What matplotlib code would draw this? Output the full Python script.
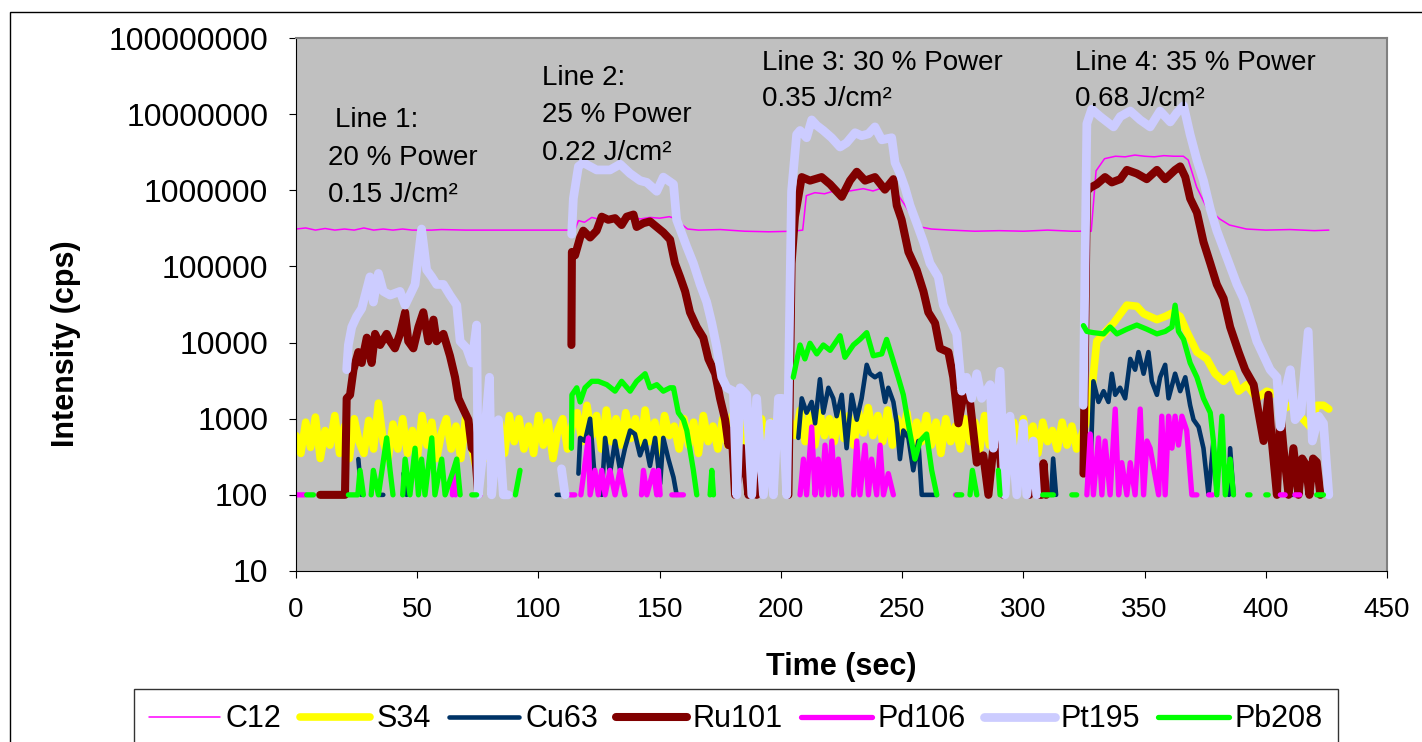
import matplotlib
matplotlib.use('Agg')
import matplotlib.pyplot as plt
import numpy as np
from matplotlib.patches import Rectangle
from matplotlib.ticker import FixedLocator, FuncFormatter, NullLocator

plt.rcParams['font.family'] = ['Liberation Sans', 'DejaVu Sans']

# time (sec) and intensity (cps); 0 = no signal (gap on the log axis)
c12_t = [0, 4, 8, 12, 16, 20, 24, 28, 32, 36,
         40, 44, 48, 52, 56, 60, 70, 80, 90, 100,
         110, 115, 116.5, 119, 122, 126, 130, 134, 138, 142,
         146, 150, 154, 157, 159, 161.5, 166, 175, 185, 195,
         205, 209, 210.5, 214, 218, 222, 226, 230, 234, 238,
         242, 246, 248, 251, 254, 257.5, 262, 270, 280, 290,
         300, 310, 320, 328, 330, 333.5, 338, 342, 346, 350,
         354, 358, 362, 366, 368, 371.5, 375.5, 381, 385, 392,
         400, 410, 420, 426]
c12_v = [3.1e5, 3.2e5, 3.0e5, 3.15e5, 3.0e5, 3.1e5, 3.0e5, 3.2e5, 3.0e5, 3.1e5,
         3.0e5, 3.1e5, 3.0e5, 3.0e5, 3.0e5, 3.05e5, 3.0e5, 3.0e5, 3.0e5, 3.0e5,
         3.0e5, 3.0e5, 4.0e5, 3.8e5, 4.4e5, 4.1e5, 4.3e5, 4.0e5, 4.5e5, 4.2e5,
         4.4e5, 4.3e5, 4.5e5, 4.2e5, 3.6e5, 3.1e5, 3.0e5, 3.05e5, 2.9e5, 2.85e5,
         2.9e5, 3.0e5, 8.5e5, 9.3e5, 9.0e5, 9.8e5, 9.5e5, 1.0e6, 1.05e6, 9.8e5,
         1.08e6, 1.05e6, 9.0e5, 6.5e5, 4.5e5, 3.3e5, 3.1e5, 3.0e5, 2.9e5, 2.95e5,
         2.9e5, 3.0e5, 2.9e5, 2.9e5, 1.8e6, 2.6e6, 2.8e6, 2.75e6, 2.9e6, 2.8e6,
         2.75e6, 2.85e6, 2.8e6, 2.8e6, 2.5e6, 1.1e6, 6.0e5, 4.2e5, 3.5e5, 3.1e5,
         3.0e5, 3.05e5, 2.95e5, 3.0e5]

# S34: background every 2 s up to 326 s, then the line 4 peak
s34_base = [600, 350, 900, 420, 1050, 300, 700, 450, 1100, 350,
            800, 300, 1000, 500, 350, 950, 400, 1600, 500, 300,
            850, 400, 1000, 350, 700, 300, 1100, 450, 900, 300,
            650, 1000, 400, 800, 300, 1050, 500, 250, 700, 300,
            600, 250, 900, 350, 1100, 500, 1000, 400, 800, 350,
            1100, 450, 900, 300, 700, 1000, 400, 850, 1200, 500,
            1500, 600, 1100, 400, 1300, 500, 1000, 450, 1200, 550,
            1000, 400, 1300, 500, 900, 350, 1100, 600, 800, 400,
            1000, 450, 900, 350, 1100, 500, 800, 400, 1000, 450,
            1100, 500, 900, 400, 1200, 600, 1000, 450, 900, 500,
            1200, 400, 900, 600, 1300, 500, 1100, 450, 1200, 600,
            1000, 500, 1300, 550, 1100, 450, 1200, 650, 1400, 600,
            1100, 500, 1300, 450, 1000, 600, 1200, 400, 900, 500,
            1100, 450, 900, 350, 1000, 500, 800, 400, 1000, 500,
            900, 400, 1100, 450, 800, 350, 1000, 500, 900, 400,
            1000, 450, 800, 350, 900, 500, 700, 400, 900, 450,
            800, 400, 600, 900]
s34_peak_t = [327.6, 330.3, 333, 337.2, 342.7, 346.8, 349.6, 355.1, 358.5, 362,
              364.7, 367.4, 371.6, 375.7, 379.1, 382.6, 386, 388.8, 392.2, 396.3,
              400.4, 404.6, 407.3, 410.1, 414.2, 418.3, 421.1, 423.8, 426]
s34_peak_v = [1.5e3, 1.04e4, 1.3e4, 1.8e4, 3.1e4, 3.0e4, 2.4e4, 2.0e4, 2.2e4, 2.5e4,
              2.2e4, 1.4e4, 7.5e3, 6.1e3, 3.9e3, 3.1e3, 3.9e3, 2.3e3, 2.8e3, 1.85e3,
              2.3e3, 2.06e3, 1.34e3, 1.5e3, 1.08e3, 780, 1.5e3, 1.5e3, 1.34e3]

cu63_t = [25.7, 27.0, 27.5, 34.5, 36.0, 36.5, 44.3, 45.6, 46.0, 107.5, 109.6, 110.0,
          116.5, 117.2, 119.2, 121.3, 123.3, 126.1, 127.5, 129.5, 131.6, 133.7,
          135.7, 137.8, 139.8, 141.9, 144.0, 146.0, 148.1, 150.2, 151.5, 153.6,
          155.7, 157.0, 157.5,
          207.2, 208.6, 210.6, 212.7, 214.1, 216.1, 217.5, 219.6, 221.6, 223.0,
          225.1, 227.1, 229.2, 231.3, 233.3, 235.4, 236.8, 238.8, 240.9, 243.0,
          244.3, 246.4, 247.8, 249.1, 250.5, 252.6, 254.6, 256.7, 258.1, 264.3, 264.8,
          303.5, 304.5, 305.0, 311.5, 312.3, 313.5, 314.0,
          327.6, 328.9, 331.0, 333.1, 335.1, 336.5, 337.9, 339.9, 342.0, 344.1,
          346.1, 347.5, 349.6, 351.6, 353.0, 355.1, 356.4, 358.5, 359.9, 362.6,
          364.7, 366.8, 368.8, 370.2, 372.3, 374.3, 376.4, 378.4, 379.8, 380.3,
          384.8, 385.3, 386.7, 387.2, 409.0, 411.0]
cu63_v = [295, 100, 0, 100, 100, 0, 190, 100, 0, 100, 100, 0,
          190, 560, 510, 1000, 155, 100, 560, 190, 510, 210,
          410, 700, 630, 330, 510, 240, 560, 140, 560, 295,
          170, 100, 0,
          560, 1850, 1200, 1660, 870, 3300, 1200, 2550, 1850, 1080,
          2060, 410, 2060, 970, 1850, 5100, 3900, 3500, 3900, 1660,
          2550, 1660, 870, 295, 700, 560, 210, 510, 100, 100, 0,
          100, 270, 0, 100, 300, 100, 0,
          190, 3100, 1660, 2300, 1660, 3900, 2060, 2550, 1850, 6100,
          4400, 7500, 3900, 7500, 3100, 2060, 3500, 5100, 1850, 3900,
          2300, 3500, 1500, 970, 780, 410, 100, 510, 100, 0,
          100, 410, 100, 0, 100, 100]

ru101_t = [10, 20.2, 20.9, 22.3, 23.7, 25.7, 27.1, 29.2, 31.2, 32.6,
           34.7, 37.4, 38.8, 40.8, 42.9, 45, 46.3, 48.4, 50.5, 52.5,
           54.6, 56.7, 58, 60.8, 63.5, 65.6, 67, 69, 71.1, 72.5,
           73.8, 75.2, 75.7,
           113.6, 113.8, 115.1, 117.2, 118.5, 121.3, 124, 126.1, 128.8, 131.6,
           134.3, 136.4, 139.2, 140.5, 143.3, 146, 148.8, 151.5, 154.3, 156.3,
           158.4, 160.5, 162.5, 165.3, 168, 170.1, 172.9, 174.9, 177, 178.4,
           179.7, 181.1, 184.5, 186.6, 188, 190, 190.5,
           203.1, 204.4, 205.8, 208.6, 212, 216.8, 220.3, 225.1, 228.5, 231.3,
           234.7, 238.8, 242.9, 246.4, 247.8, 249.8, 252.6, 256, 258.8, 260.8,
           263.6, 265.6, 269.1, 271.1, 273.2, 275.3, 278, 280.8, 283.5, 285.6,
           287.6, 289.7, 291.8, 292.3,
           302.5, 303.2, 305, 305.6, 307.5, 308.3, 309.4, 309.9,
           324.8, 326.2, 327.6, 330.3, 333.7, 336.5, 340, 342.7, 346.8, 350.9,
           355.1, 358.5, 362.6, 364.7, 366.8, 368.8, 371.6, 374.3, 377.1, 379.8,
           382.6, 385.3, 388.8, 391.5, 395, 397, 399.1, 401.1, 402.5, 404.6,
           406, 407.3, 409.4, 411.4, 413.5, 415, 416.5, 418, 419.5, 421,
           422.5]
ru101_v = [100, 100, 1.85e3, 2.06e3, 4.4e3, 7.5e3, 5.4e3, 1.16e4, 5.4e3, 1.3e4,
           9.3e3, 1.3e4, 1.04e4, 8.4e3, 1.3e4, 2.5e4, 1.04e4, 8.4e3, 1.6e4, 2.5e4,
           1.04e4, 2.0e4, 1.04e4, 1.3e4, 6.7e3, 3.5e3, 1.85e3, 1.34e3, 970, 410,
           370, 100, 0,
           9.3e3, 1.55e5, 1.4e5, 2.4e5, 2.95e5, 2.4e5, 2.95e5, 4.5e5, 4.1e5, 4.3e5,
           3.5e5, 4.5e5, 4.8e5, 3.3e5, 3.7e5, 3.9e5, 3.3e5, 2.8e5, 2.25e5, 1.1e5,
           7.3e4, 4.7e4, 2.5e4, 1.6e4, 1.16e4, 6.1e3, 3.9e3, 1.85e3, 970, 450,
           700, 100, 410, 100, 295, 100, 0,
           100, 1.1e5, 4.5e5, 1.49e6, 1.34e6, 1.49e6, 1.2e6, 8.2e5, 1.34e6, 1.75e6,
           1.34e6, 1.49e6, 1.02e6, 1.4e6, 6.3e5, 4.1e5, 1.55e5, 9.0e4, 4.7e4, 2.5e4,
           1.8e4, 8.4e3, 7.5e3, 3.5e3, 870, 2.06e3, 1.66e3, 265, 330, 100,
           410, 630, 100, 0,
           100, 240, 240, 100, 100, 260, 100, 0,
           190, 9.7e5, 1.08e6, 1.2e6, 1.49e6, 1.27e6, 1.4e6, 1.85e6, 1.66e6, 1.4e6,
           1.85e6, 1.4e6, 1.85e6, 2.06e6, 1.49e6, 7.8e5, 5.1e5, 2.1e5, 1.1e5, 5.8e4,
           3.8e4, 1.6e4, 7.5e3, 4.4e3, 2.8e3, 1.2e3, 510, 2.06e3, 510, 100,
           1.2e3, 410, 100, 410, 100, 300, 250, 100, 300, 270,
           100]

pd106_t = [0.5, 3.7, 4.0, 64.5, 65.0, 65.8, 66.2, 75.0, 76.0, 76.5,
           113.0, 115.0, 115.5,
           117.5, 120.6, 121.3, 123.3, 124.7, 126.1, 127.5, 129.5, 131.6, 133.7, 135.7, 136.2,
           142.5, 143.3, 144.7, 147.4, 148.8, 149.5, 150.2, 150.7,
           155.0, 159.8, 160.3,
           207.9, 209.3, 210.6, 212.7, 214.1, 215.4, 216.8, 218.2, 219.6, 221.0, 222.3, 223.7, 225.1, 225.6,
           230.0, 231.3, 232.6, 234.7, 236.1, 237.4, 239.5, 240.9, 242.3, 244.3, 246.4, 246.9,
           272.0, 273.5, 274.0,
           326.2, 327.6, 328.9, 331.0, 332.4, 333.7, 335.8, 337.9, 339.3, 340.6,
           342.7, 344.1, 346.1, 348.2, 349.6, 351.0, 352.3, 355.8, 357.1, 358.5,
           359.9, 361.3, 362.6, 364.0, 365.4, 367.4, 369.5, 371.6, 372.1,
           376.5, 378.0, 378.5, 406.0, 408.0, 408.5, 412.0, 414.0]
pd106_v = [100, 100, 0, 100, 210, 100, 0, 100, 100, 0,
           100, 100, 0,
           100, 560, 100, 210, 100, 210, 100, 210, 100, 210, 100, 0,
           100, 210, 100, 210, 100, 210, 100, 0,
           100, 100, 0,
           100, 295, 100, 780, 100, 295, 100, 450, 100, 510, 100, 295, 100, 0,
           100, 510, 100, 450, 100, 295, 100, 450, 100, 190, 100, 0,
           100, 100, 0,
           100, 630, 100, 560, 100, 510, 100, 1340, 100, 265,
           100, 265, 100, 1340, 100, 510, 410, 100, 1080, 100,
           1080, 410, 1080, 450, 1080, 700, 100, 100, 0,
           100, 100, 0, 100, 100, 0, 100, 100]

pt195_t = [20.9, 21.6, 23, 25, 27.1, 30.5, 31.9, 34, 36, 38.8,
           42.9, 45, 47, 49.1, 51.8, 53.9, 56, 58, 60.8, 63.5,
           66.3, 67.7, 70.4, 72.5, 74.5, 75.2, 77.3, 79.8, 80.7, 83.5,
           85.5, 87.6, 88,
           109.5, 111, 111.5,
           113.7, 114.4, 116.5, 118.5, 124, 129.5, 133.7, 137.8, 141.9, 144.7,
           148.8, 151.5, 155.7, 157, 161.2, 163.9, 166.7, 169.4, 171.5, 173.5,
           175.6, 177.7, 180.4, 181.8, 183.2, 185.9, 188, 190, 192.8, 195.5,
           196.9, 199, 200.5, 202.4, 204.4, 206.5, 207.9, 210.6, 212.7, 214.8,
           217.5, 220.9, 224.4, 227.1, 230.6, 233.3, 236.1, 238.8, 241.6, 245.7,
           247.1, 249.1, 251.2, 253.3, 256, 258.8, 261.5, 264.9, 267, 269.8,
           272.5, 274.6, 276.6, 278.7, 280.8, 282.8, 286.3, 287.6, 290.4, 292.4,
           294.5, 297.3, 300, 301.4, 304.1, 305.5, 306,
           324.7, 326.2, 328.2, 331.7, 337.2, 340, 344.1, 348.2, 352.3, 356.4,
           360.6, 363.3, 366.1, 368.8, 371.6, 374.3, 377.1, 379.8, 382.6, 385.3,
           388.1, 390.8, 393.6, 396.3, 399.1, 401.8, 404.6, 406, 408, 410.1,
           412.1, 414.5, 417.5, 419.2, 421.8, 423.8, 426]
pt195_v = [4.4e3, 9.3e3, 1.6e4, 2.2e4, 2.8e4, 7.3e4, 3.4e4, 8.1e4, 4.7e4, 4.2e4,
           4.7e4, 3.1e4, 4.2e4, 5.8e4, 3.1e5, 9.0e4, 7.3e4, 5.8e4, 5.8e4, 4.2e4,
           3.1e4, 1.04e4, 8.4e3, 5.4e3, 1.7e4, 100, 410, 3.5e3, 100, 970,
           100, 100, 0,
           220, 100, 0,
           2.65e5, 7.8e5, 2.06e6, 2.3e6, 1.85e6, 1.85e6, 2.2e6, 1.66e6, 1.34e6, 1.27e6,
           9.7e5, 1.49e6, 1.2e6, 4.1e5, 1.8e5, 1.1e5, 5.8e4, 3.4e4, 1.8e4, 8.8e3,
           3.5e3, 2.55e3, 2.3e3, 100, 2.55e3, 2.06e3, 100, 1.85e3, 100, 870,
           100, 1.85e3, 1.85e3, 100, 9.7e5, 5.4e6, 6.1e6, 4.9e6, 8.4e6, 7.1e6,
           6.1e6, 4.9e6, 3.7e6, 4.2e6, 5.7e6, 5.2e6, 5.5e6, 6.8e6, 4.6e6, 4.9e6,
           2.3e6, 1.66e6, 1.08e6, 6.3e5, 3.7e5, 2.1e5, 1.1e5, 7.3e4, 3.1e4, 2.0e4,
           1.3e4, 2.3e3, 3.5e3, 1.85e3, 3.9e3, 1.85e3, 2.8e3, 410, 4.2e3, 100,
           1.08e3, 100, 870, 100, 510, 100, 0,
           1.5e3, 7.5e6, 1.16e7, 9.3e6, 6.8e6, 9.3e6, 1.1e7, 8.4e6, 6.8e6, 1.1e7,
           7.9e6, 1.04e7, 1.29e7, 5.4e6, 2.5e6, 1.34e6, 5.7e5, 2.95e5, 1.7e5, 1.0e5,
           5.8e4, 3.8e4, 2.0e4, 1.04e4, 6.7e3, 4.4e3, 3.5e3, 780, 2.3e3, 4.4e3,
           970, 1.2e3, 1.4e4, 510, 1.08e3, 870, 100]

pb208_t = [4.4, 7.2, 7.6,
           21.6, 24.3, 25.5, 26.4, 27.8, 28.3,
           31.0, 31.9, 34.0, 37.4, 38.8, 40.0, 40.5,
           44.0, 45.0, 47.0, 49.1, 50.5, 51.8, 53.2, 56.0, 57.3, 60.1, 61.5, 64.9, 66.3, 67.7, 68.2,
           72.5, 74.5, 75.0, 90.5, 92.4, 92.9,
           113.6, 113.8, 115.8, 117.2, 119.2, 122.0, 124.7, 128.2, 131.6, 134.3,
           137.8, 140.5, 144.0, 146.0, 148.8, 151.5, 154.3, 155.7, 157.7, 159.8,
           161.2, 163.9, 165.3, 165.8, 170.8, 171.5, 172.2, 172.7,
           205.1, 207.9, 209.9, 212.0, 214.8, 217.5, 220.3, 224.4, 226.4, 229.9,
           232.6, 235.4, 238.1, 241.6, 243.6, 245.7, 248.4, 250.5, 253.3, 255.3,
           257.4, 260.1, 262.2, 264.3, 264.8,
           272.5, 274.6, 275.0, 278.0, 279.0, 280.8, 281.2, 289.7, 290.4, 290.9,
           308.0, 312.4, 312.8, 320.0, 322.0, 322.4,
           324.8, 326.2, 328.9, 333.1, 335.8, 338.6, 342.7, 346.8, 350.9, 355.1,
           358.5, 361.3, 362.6, 364.0, 366.1, 368.8, 371.6, 374.3, 377.1, 378.4,
           379.8, 381.9, 383.3, 385.3, 386.7, 387.2,
           392.5, 393.5, 394.0, 400.0, 401.0, 401.5, 421.0, 423.8]
pb208_v = [100, 100, 0,
           100, 100, 100, 210, 100, 0,
           100, 210, 100, 560, 210, 100, 0,
           100, 295, 100, 410, 100, 295, 100, 560, 100, 295, 100, 210, 295, 100, 0,
           100, 100, 0, 100, 210, 0,
           410, 2060, 2550, 1660, 2550, 3100, 3100, 2800, 2300, 3100,
           2300, 3100, 3900, 2550, 2800, 2300, 2550, 2550, 1200, 970,
           700, 210, 100, 0, 100, 210, 100, 0,
           3500, 9300, 6100, 9800, 7100, 9300, 7900, 12300, 6400, 9300,
           11000, 13500, 6700, 7100, 11000, 6700, 3500, 2060, 630, 295,
           510, 630, 210, 100, 0,
           100, 100, 0, 100, 210, 100, 0, 210, 100, 0,
           100, 100, 0, 100, 100, 0,
           16700, 14000, 13500, 13000, 16000, 13000, 15000, 17000, 15000, 13000,
           14000, 16000, 31000, 14000, 11000, 5400, 3500, 1850, 1200, 510,
           100, 1080, 100, 295, 100, 0,
           100, 100, 0, 100, 100, 0, 100, 100]

y_ticks = [10, 100, 1000, 10000, 100000, 1000000, 10000000, 100000000]
x_ticks = [0, 50, 100, 150, 200, 250, 300, 350, 400, 450]

notes = [('Line 1:', 335, 107), ('20 % Power', 328, 145), ('0.15 J/cm\u00b2', 328, 182),
         ('Line 2:', 542, 65), ('25 % Power', 542, 102), ('0.22 J/cm\u00b2', 542, 140),
         ('Line 3: 30 % Power', 762, 50), ('0.35 J/cm\u00b2', 762, 86),
         ('Line 4: 35 % Power', 1075, 50), ('0.68 J/cm\u00b2', 1075, 86)]


def gaps(v):
    v = np.array(v, dtype=float)
    v[v <= 0] = np.nan
    return v


W, H = 1422, 742
fig = plt.figure(figsize=(W / 100, H / 100), dpi=100)
ax = fig.add_axes([296 / W, (H - 571) / H, 1091 / W, 533 / H])
ax.set_facecolor('#C0C0C0')

s34_t = np.concatenate([np.arange(0, 327, 2), s34_peak_t])
s34_v = np.concatenate([s34_base, s34_peak_v])

series = [
    ('C12', c12_t, c12_v, '#FF00FF', 1.1),
    ('S34', s34_t, s34_v, '#FFFF00', 5.5),
    ('Cu63', cu63_t, cu63_v, '#003366', 3.3),
    ('Ru101', ru101_t, ru101_v, '#800000', 5.8),
    ('Pd106', pd106_t, pd106_v, '#FF00FF', 3.8),
    ('Pt195', pt195_t, pt195_v, '#CCCCFF', 6.3),
    ('Pb208', pb208_t, pb208_v, '#00FF00', 3.8),
]
handles = []
for name, t, v, col, lw in series:
    ln, = ax.plot(t, gaps(v), color=col, lw=lw, label=name,
                  solid_capstyle='round', solid_joinstyle='round')
    handles.append(ln)

ax.set_yscale('log')
ax.set_ylim(10, 1e8)
ax.set_xlim(0, 450)
ax.yaxis.set_major_locator(FixedLocator(y_ticks))
ax.yaxis.set_minor_locator(NullLocator())
ax.yaxis.set_major_formatter(FuncFormatter(lambda v, p: f'{v:.0f}'))
ax.set_xticks(x_ticks)
ax.tick_params(axis='y', direction='out', length=5, width=0.8, pad=15, labelsize=23)
ax.tick_params(axis='x', direction='out', length=5, width=0.8, pad=14, labelsize=20)
for side in ['left', 'bottom']:
    ax.spines[side].set_color('black')
    ax.spines[side].set_linewidth(0.8)
for side in ['top', 'right']:
    ax.spines[side].set_color('#808080')
    ax.spines[side].set_linewidth(1.5)

for txt, px, py in notes:
    ax.text((px - 296) / 1091, (571 - py) / 533, txt, transform=ax.transAxes,
            ha='left', va='top', fontsize=20)

fig.text(66 / W, 1 - 344 / H, 'Intensity (cps)', rotation=90, ha='center', va='center',
         fontsize=22, fontweight='bold')
fig.text(841 / W, 1 - 667 / H, 'Time (sec)', ha='center', va='center',
         fontsize=22, fontweight='bold')

leg = fig.legend(handles, [s[0] for s in series], ncol=7, loc='upper left',
                 bbox_to_anchor=(134 / W, 1 - 689 / H), frameon=True, fancybox=False,
                 edgecolor='black', fontsize=22, handlelength=2.3, handletextpad=0.2,
                 columnspacing=0.6, borderpad=0.5, borderaxespad=0)
leg.get_frame().set_linewidth(1)

fig.add_artist(Rectangle((10 / W, -0.1), 1.2, 1.1 - 12 / H, transform=fig.transFigure,
                         fill=False, edgecolor='black', lw=1))

fig.savefig('out.png', dpi=100)
